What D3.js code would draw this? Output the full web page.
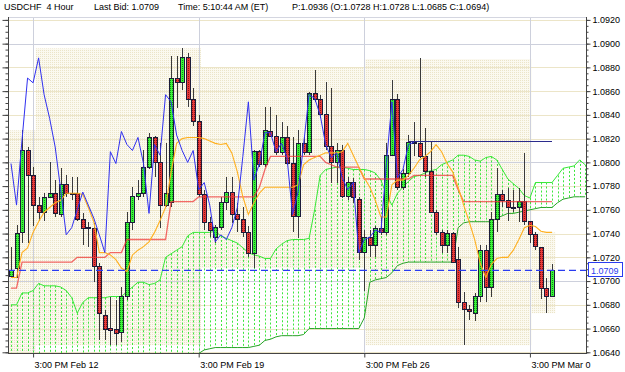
<!DOCTYPE html>
<html>
<head>
<meta charset="utf-8">
<script src="https://d3js.org/d3.v7.min.js"></script>
<style>
  body { margin: 0; background: #fff; overflow: hidden; }
  text { font-family: "Liberation Sans", Arial, sans-serif; }
</style>
</head>
<body>
<script>
// USDCHF 4 hour candles, one bar per 4h
const opens = [1.0704,1.0711,1.0741,1.0810,1.0789,1.0764,1.0758,1.0770,1.0774,1.0756,
  1.0781,1.0774,1.0774,1.0752,1.0745,1.0744,1.0712,1.0671,1.0660,1.0659,
  1.0657,1.0687,1.0749,1.0771,1.0774,1.0796,1.0821,1.0800,1.0764,1.0766,
  1.0871,1.0867,1.0888,1.0853,1.0834,1.0773,1.0749,1.0737,1.0745,1.0766,
  1.0775,1.0756,1.0752,1.0741,1.0723,1.0809,1.0798,1.0826,1.0822,1.0808,
  1.0821,1.0799,1.0754,1.0816,1.0808,1.0858,1.0853,1.0840,1.0813,1.0800,
  1.0810,1.0771,1.0783,1.0769,1.0724,1.0737,1.0730,1.0744,1.0741,1.0806,
  1.0853,1.0779,1.0791,1.0817,1.0816,1.0805,1.0792,1.0758,1.0741,1.0730,
  1.0740,1.0718,1.0682,1.0676,1.0673,1.0687,1.0726,1.0695,1.0752,1.0773,
  1.0768,1.0762,1.0762,1.0767,1.0750,1.0739,1.0728,1.0694,1.0687];
const highs = [1.0729,1.0747,1.0827,1.0813,1.0796,1.0771,1.0774,1.0800,1.0785,1.0795,
  1.0789,1.0788,1.0788,1.0757,1.0750,1.0749,1.0715,1.0676,1.0687,1.0684,
  1.0695,1.0758,1.0779,1.0785,1.0810,1.0825,1.0822,1.0816,1.0816,1.0890,
  1.0890,1.0896,1.0892,1.0863,1.0840,1.0777,1.0754,1.0747,1.0771,1.0788,
  1.0788,1.0766,1.0762,1.0746,1.0810,1.0810,1.0847,1.0847,1.0840,1.0834,
  1.0831,1.0821,1.0827,1.0821,1.0859,1.0878,1.0857,1.0868,1.0863,1.0816,
  1.0815,1.0788,1.0787,1.0771,1.0743,1.0743,1.0746,1.0754,1.0816,1.0869,
  1.0858,1.0794,1.0823,1.0834,1.0888,1.0829,1.0817,1.0760,1.0743,1.0743,
  1.0741,1.0729,1.0691,1.0680,1.0690,1.0730,1.0730,1.0758,1.0795,1.0777,
  1.0778,1.0777,1.0778,1.0808,1.0751,1.0741,1.0728,1.0703,1.0714];
const lows = [1.0703,1.0703,1.0732,1.0732,1.0746,1.0751,1.0751,1.0770,1.0754,1.0754,
  1.0771,1.0768,1.0751,1.0730,1.0729,1.0699,1.0650,1.0650,1.0646,1.0646,
  1.0649,1.0684,1.0743,1.0768,1.0771,1.0794,1.0788,1.0745,1.0762,1.0762,
  1.0846,1.0861,1.0847,1.0831,1.0771,1.0743,1.0737,1.0732,1.0743,1.0760,
  1.0749,1.0741,1.0737,1.0720,1.0711,1.0796,1.0796,1.0821,1.0806,1.0806,
  1.0798,1.0741,1.0736,1.0806,1.0806,1.0851,1.0837,1.0810,1.0783,1.0783,
  1.0770,1.0768,1.0766,1.0718,1.0692,1.0720,1.0720,1.0739,1.0739,1.0805,
  1.0777,1.0777,1.0788,1.0805,1.0804,1.0788,1.0757,1.0739,1.0724,1.0724,
  1.0715,1.0677,1.0646,1.0667,1.0666,1.0682,1.0682,1.0687,1.0741,1.0762,
  1.0751,1.0758,1.0750,1.0747,1.0732,1.0726,1.0685,1.0673,1.0687];
const closes = [1.0709,1.0740,1.0810,1.0789,1.0764,1.0758,1.0770,1.0774,1.0757,1.0781,
  1.0774,1.0773,1.0752,1.0744,1.0744,1.0712,1.0673,1.0659,1.0658,1.0656,
  1.0687,1.0749,1.0771,1.0774,1.0796,1.0821,1.0800,1.0764,1.0774,1.0871,
  1.0867,1.0888,1.0853,1.0834,1.0773,1.0749,1.0743,1.0745,1.0766,1.0775,
  1.0756,1.0752,1.0741,1.0723,1.0809,1.0798,1.0827,1.0822,1.0808,1.0821,
  1.0799,1.0754,1.0816,1.0808,1.0858,1.0853,1.0840,1.0813,1.0800,1.0810,
  1.0771,1.0783,1.0770,1.0724,1.0737,1.0730,1.0744,1.0741,1.0806,1.0853,
  1.0779,1.0791,1.0817,1.0816,1.0805,1.0792,1.0758,1.0741,1.0730,1.0740,
  1.0716,1.0682,1.0676,1.0674,1.0687,1.0726,1.0695,1.0752,1.0773,1.0768,
  1.0762,1.0761,1.0767,1.0750,1.0739,1.0729,1.0694,1.0687,1.0709];

// Ichimoku lines
const tenkan = [1.0703,1.0703,1.0724,1.0728,1.0741,1.0750,1.0758,1.0762,1.0766,1.0768,
  1.0774,1.0774,1.0774,1.0773,1.0762,1.0750,1.0724,1.0724,1.0722,1.0718,
  1.0711,1.0708,1.0722,1.0726,1.0729,1.0733,1.0741,1.0751,1.0762,1.0792,
  1.0816,1.0820,1.0821,1.0821,1.0821,1.0820,1.0818,1.0816,1.0815,1.0816,
  1.0808,1.0792,1.0771,1.0756,1.0766,1.0774,1.0779,1.0779,1.0779,1.0779,
  1.0779,1.0779,1.0781,1.0798,1.0802,1.0804,1.0806,1.0808,1.0808,1.0808,
  1.0809,1.0816,1.0806,1.0796,1.0787,1.0779,1.0768,1.0754,1.0754,1.0781,
  1.0785,1.0785,1.0789,1.0795,1.0802,1.0805,1.0809,1.0815,1.0809,1.0799,
  1.0792,1.0779,1.0764,1.0750,1.0735,1.0715,1.0703,1.0714,1.0719,1.0720,
  1.0720,1.0726,1.0735,1.0745,1.0747,1.0746,1.0742,1.0741,1.0741];
const kijun = [1.0694,1.0694,
  1.0716,1.0716,1.0716,1.0716,1.0716,1.0716,1.0716,1.0716,1.0716,1.0716,
  1.0720,1.0720,1.0720,1.0720,1.0720,1.0720,
  1.0724,1.0724,1.0724,
  1.0735,1.0735,1.0735,1.0735,1.0735,1.0735,1.0735,1.0735,
  1.0767,1.0767,1.0767,1.0767,1.0767,
  1.0771,1.0771,1.0771,1.0771,1.0771,1.0771,1.0771,1.0771,1.0771,1.0771,1.0771,
  1.0779,1.0794,
  1.0805,1.0805,1.0805,1.0805,1.0805,1.0805,1.0805,1.0805,1.0805,1.0805,
  1.0800,1.0798,
  1.0796,1.0796,1.0796,1.0796,1.0796,
  1.0786,1.0786,1.0786,1.0786,1.0786,1.0786,1.0786,1.0786,1.0786,
  1.0789,1.0789,1.0789,1.0789,1.0789,1.0789,1.0789,1.0789,
  1.0777,
  1.0767,1.0767,1.0767,1.0767,1.0767,1.0767,1.0767,1.0767,1.0767,1.0767,
  1.0767,1.0767,1.0767,1.0767,1.0767,1.0767,1.0767];
const chikou = [1.0799,1.0764,1.0819,1.0871,1.0867,1.0888,1.0857,1.0837,1.0813,1.0777,
  1.0739,1.0745,1.0760,1.0775,1.0764,1.0753,1.0739,1.0724,1.0809,1.0799,
  1.0826,1.0815,1.0810,1.0821,1.0799,1.0757,1.0815,1.0806,1.0857,1.0851,
  1.0823,1.0810,1.0800,1.0810,1.0777,1.0783,1.0764,1.0733,1.0739,1.0735,
  1.0745,1.0762,1.0805,1.0851,1.0785,1.0799,1.0825,1.0825,1.0809,1.0816,
  1.0804,1.0756,1.0775,1.0815,1.0857,1.0854,1.0840,1.0815,1.0804,1.0808,
  1.0787,1.0777,1.0783,1.0724,1.0735,1.0737,1.0743,1.0741,1.0799,1.0851,
  1.0787,1.0794,1.0815,1.0817];
const spanA = [1.0680,1.0680,1.0690,1.0690,1.0692,1.0698,1.0696,1.0696,1.0696,1.0695,
  1.0692,1.0686,1.0673,1.0682,1.0686,1.0686,1.0686,1.0686,1.0687,1.0687,
  1.0687,1.0691,1.0695,1.0699,1.0699,1.0697,1.0698,1.0701,1.0720,1.0723,
  1.0726,1.0729,1.0738,1.0741,1.0741,1.0741,1.0741,1.0742,1.0738,1.0736,
  1.0734,1.0732,1.0728,1.0724,1.0722,1.0721,1.0719,1.0719,1.0727,1.0731,
  1.0734,1.0735,1.0735,1.0735,1.0736,1.0760,1.0789,1.0794,1.0795,1.0796,
  1.0796,1.0795,1.0794,1.0794,1.0794,1.0793,1.0791,1.0785,1.0773,1.0764,
  1.0774,1.0779,1.0784,1.0788,1.0789,1.0791,1.0793,1.0794,1.0798,1.0800,
  1.0802,1.0806,1.0806,1.0805,1.0802,1.0801,1.0804,1.0805,1.0802,1.0794,
  1.0786,1.0782,1.0778,1.0772,1.0770,1.0783,1.0783,1.0783,1.0783,1.0789,
  1.0795,1.0796,1.0797,1.0802,1.0798];
const spanB = [1.0634,1.0634,1.0634,1.0634,1.0634,1.0634,1.0634,1.0634,1.0634,1.0634,
  1.0634,1.0634,1.0634,1.0634,1.0634,1.0634,1.0634,1.0634,1.0634,1.0634,
  1.0634,1.0634,1.0634,1.0634,1.0634,1.0634,1.0634,1.0634,1.0634,1.0634,
  1.0634,1.0634,1.0634,1.0634,1.0639,1.0642,1.0643,1.0644,1.0644,1.0644,
  1.0644,1.0644,1.0644,1.0644,1.0645,1.0646,1.0650,1.0651,1.0653,1.0654,
  1.0654,1.0654,1.0654,1.0655,1.0660,1.0660,1.0660,1.0660,1.0660,1.0660,
  1.0660,1.0660,1.0660,1.0660,1.0669,1.0699,1.0701,1.0702,1.0703,1.0707,
  1.0713,1.0715,1.0716,1.0716,1.0716,1.0716,1.0716,1.0716,1.0716,1.0716,
  1.0716,1.0745,1.0749,1.0750,1.0750,1.0750,1.0750,1.0750,1.0753,1.0755,
  1.0757,1.0757,1.0758,1.0759,1.0760,1.0761,1.0762,1.0762,1.0762,1.0766,
  1.0769,1.0770,1.0771,1.0771,1.0771];

// weekly high/low ranges (bar index span)
const weekStart = [-0.55, 4.5, 34.4, 64.2, 94.3];
const weekEnd = [4.5, 34.4, 64.2, 94.3, 98.6];
const weekHigh = [1.0827, 1.0896, 1.0880, 1.0887, 1.0741];
const weekLow = [1.0634, 1.0646, 1.0711, 1.0646, 1.0673];

const lastBid = 1.0709;
const levelLine = {from: 72, to: 98, price: 1.0818};

const xTickIdx = [4, 34, 64, 94];
const xTickLabels = ['3:00 PM Feb 12', '3:00 PM Feb 19', '3:00 PM Feb 26', '3:00 PM Mar 0'];
const yTicks = [1.0640,1.0660,1.0680,1.0700,1.0720,1.0740,1.0760,1.0780,1.0800,1.0820,1.0840,1.0860,1.0880,1.0900,1.0920];
const yMajor = [1.0700, 1.0800, 1.0900];

const width = 625, height = 372;
const plot = {left: 8, right: 586, top: 17, bottom: 353};

const x = d3.scaleLinear().domain([0, 98]).range([11, 552]);
const y = d3.scaleLinear().domain([1.0640, 1.0920]).range([352.3, 19.9]);

const svg = d3.select('body').append('svg')
  .attr('width', width)
  .attr('height', height);

const defs = svg.append('defs');
defs.append('clipPath').attr('id', 'clip')
  .append('rect')
  .attr('x', plot.left).attr('y', plot.top)
  .attr('width', plot.right - plot.left).attr('height', plot.bottom - plot.top);

function dotPattern(id, base, dot) {
  const p = defs.append('pattern').attr('id', id)
    .attr('patternUnits', 'userSpaceOnUse').attr('width', 2).attr('height', 2);
  p.append('rect').attr('width', 2).attr('height', 2).attr('fill', base);
  p.append('rect').attr('width', 1).attr('height', 1).attr('fill', dot);
}
dotPattern('sand', '#fbf9ef', '#ebe4c8');
dotPattern('bull', '#3cf23c', '#0e8f0e');
dotPattern('bear', '#e63b3b', '#8c1212');

const g = svg.append('g').attr('clip-path', 'url(#clip)');

// weekly range boxes
g.selectAll('rect.week')
  .data(weekStart)
  .join('rect')
  .attr('class', 'week')
  .attr('x', (d, i) => x(d))
  .attr('width', (d, i) => x(weekEnd[i]) - x(d))
  .attr('y', (d, i) => y(weekHigh[i]))
  .attr('height', (d, i) => y(weekLow[i]) - y(weekHigh[i]))
  .attr('fill', 'url(#sand)');

// grid
g.selectAll('line.hminor')
  .data(yTicks.filter(v => !yMajor.some(m => Math.abs(m - v) < 1e-6)))
  .join('line')
  .attr('x1', plot.left).attr('x2', plot.right)
  .attr('y1', d => Math.round(y(d)) + 0.5).attr('y2', d => Math.round(y(d)) + 0.5)
  .attr('stroke', '#ece5c8').attr('stroke-width', 1);

g.selectAll('line.hmajor')
  .data(yMajor)
  .join('line')
  .attr('x1', plot.left).attr('x2', plot.right)
  .attr('y1', d => Math.round(y(d)) + 0.5).attr('y2', d => Math.round(y(d)) + 0.5)
  .attr('stroke', '#cdd0dc').attr('stroke-width', 1);

g.selectAll('line.vgrid')
  .data(xTickIdx)
  .join('line')
  .attr('x1', d => Math.round(x(d)) + 0.5).attr('x2', d => Math.round(x(d)) + 0.5)
  .attr('y1', plot.top).attr('y2', plot.bottom)
  .attr('stroke', '#cdd0dc').attr('stroke-width', 1);

// cloud: dotted verticals between the two spans
g.selectAll('line.cloud')
  .data(spanA)
  .join('line')
  .attr('x1', (d, i) => Math.round(x(i)) + 0.5)
  .attr('x2', (d, i) => Math.round(x(i)) + 0.5)
  .attr('y1', d => y(d))
  .attr('y2', (d, i) => y(spanB[i]))
  .attr('stroke', '#3de63d')
  .attr('stroke-width', 1)
  .attr('stroke-dasharray', '2,2');

const line = d3.line().x((d, i) => x(i)).y(d => y(d));

g.append('path').datum(spanB).attr('d', line)
  .attr('fill', 'none').attr('stroke', '#27a327').attr('stroke-width', 1);
g.append('path').datum(spanA).attr('d', line)
  .attr('fill', 'none').attr('stroke', '#35e835').attr('stroke-width', 1);

// candles
const candles = g.append('g').attr('shape-rendering', 'crispEdges');
candles.selectAll('line.wick')
  .data(closes)
  .join('line')
  .attr('x1', (d, i) => Math.round(x(i)) + 0.5)
  .attr('x2', (d, i) => Math.round(x(i)) + 0.5)
  .attr('y1', (d, i) => y(highs[i]))
  .attr('y2', (d, i) => y(lows[i]))
  .attr('stroke', '#3a3a3a');

candles.selectAll('rect.body')
  .data(closes)
  .join('rect')
  .attr('x', (d, i) => Math.round(x(i)) - 1.5)
  .attr('width', 4)
  .attr('y', (d, i) => y(Math.max(d, opens[i])))
  .attr('height', (d, i) => Math.max(1, Math.abs(y(d) - y(opens[i]))))
  .attr('fill', (d, i) => d >= opens[i] ? 'url(#bull)' : 'url(#bear)')
  .attr('stroke', '#1c1c3a')
  .attr('stroke-width', 1);

// moving lines on top
g.append('path').datum(kijun).attr('d', line)
  .attr('fill', 'none').attr('stroke', '#f03a3a').attr('stroke-opacity', 0.75).attr('stroke-width', 1.3);
g.append('path').datum(tenkan).attr('d', line)
  .attr('fill', 'none').attr('stroke', '#ffb020').attr('stroke-width', 1.1);
g.append('path').datum(chikou).attr('d', line)
  .attr('fill', 'none').attr('stroke', '#3030f0').attr('stroke-width', 1);

g.append('line')
  .attr('x1', x(levelLine.from)).attr('x2', x(levelLine.to))
  .attr('y1', Math.round(y(levelLine.price)) + 0.5).attr('y2', Math.round(y(levelLine.price)) + 0.5)
  .attr('stroke', '#2b2b8c').attr('stroke-width', 1);

// last bid dashed line
g.append('line')
  .attr('x1', plot.left).attr('x2', plot.right)
  .attr('y1', y(lastBid)).attr('y2', y(lastBid))
  .attr('stroke', '#2a3cf0').attr('stroke-width', 1.4)
  .attr('stroke-dasharray', '7,4');

// frame
svg.append('line').attr('x1', plot.left).attr('x2', plot.right)
  .attr('y1', plot.top + 0.5).attr('y2', plot.top + 0.5).attr('stroke', '#d4d6e0');
svg.append('line').attr('x1', plot.left + 0.5).attr('x2', plot.left + 0.5)
  .attr('y1', plot.top).attr('y2', plot.bottom).attr('stroke', '#444');
svg.append('line').attr('x1', plot.right + 0.5).attr('x2', plot.right + 0.5)
  .attr('y1', plot.top).attr('y2', plot.bottom + 1).attr('stroke', '#444');
svg.append('line').attr('x1', plot.left).attr('x2', plot.right + 1)
  .attr('y1', plot.bottom + 0.5).attr('y2', plot.bottom + 0.5).attr('stroke', '#444');

// axes
const minorTicks = d3.range(10640, 10925, 5).map(v => v / 10000);

const rightAxis = svg.append('g')
  .attr('transform', `translate(${plot.right + 0.5},0)`)
  .call(d3.axisRight(y).tickValues(yTicks).tickFormat(d3.format('.4f')).tickSize(4).tickPadding(2));
rightAxis.select('.domain').remove();
rightAxis.selectAll('text').attr('font-size', 9).attr('fill', '#000')
  .attr('font-family', '"Liberation Sans", Arial, sans-serif');
rightAxis.selectAll('line').attr('stroke', '#444');

const rightMinor = svg.append('g')
  .attr('transform', `translate(${plot.right + 0.5},0)`)
  .call(d3.axisRight(y).tickValues(minorTicks).tickFormat('').tickSize(2));
rightMinor.select('.domain').remove();
rightMinor.selectAll('line').attr('stroke', '#444');

const leftMinor = svg.append('g')
  .attr('transform', `translate(${plot.left + 0.5},0)`)
  .call(d3.axisLeft(y).tickValues(minorTicks).tickFormat('').tickSize(3));
leftMinor.select('.domain').remove();
leftMinor.selectAll('line').attr('stroke', '#444');

const leftMajor = svg.append('g')
  .attr('transform', `translate(${plot.left + 0.5},0)`)
  .call(d3.axisLeft(y).tickValues(yTicks).tickFormat('').tickSize(6));
leftMajor.select('.domain').remove();
leftMajor.selectAll('line').attr('stroke', '#444');

const xAxis = svg.append('g')
  .attr('transform', `translate(0,${plot.bottom + 0.5})`)
  .call(d3.axisBottom(x).tickValues(xTickIdx)
    .tickFormat((d, i) => xTickLabels[i]).tickSize(4).tickPadding(4));
xAxis.select('.domain').remove();
xAxis.selectAll('line').attr('stroke', '#444');
xAxis.selectAll('text')
  .attr('text-anchor', 'start').attr('x', 1)
  .attr('font-size', 9).attr('fill', '#000')
  .attr('font-family', '"Liberation Sans", Arial, sans-serif');

// last bid tag
const tagY = y(lastBid);
svg.append('rect')
  .attr('x', 588.5).attr('y', Math.round(tagY) - 7.5)
  .attr('width', 34).attr('height', 14)
  .attr('fill', '#fff').attr('stroke', '#2a3cf0').attr('stroke-width', 1);
svg.append('text')
  .attr('x', 591).attr('y', Math.round(tagY) + 3.5)
  .attr('font-size', 9).attr('fill', '#2a3cf0')
  .text(d3.format('.4f')(lastBid));

// header
const header = [
  {x: 4, t: 'USDCHF  4 Hour'},
  {x: 94, t: 'Last Bid: 1.0709'},
  {x: 178, t: 'Time: 5:10:44 AM (ET)'},
  {x: 292, t: 'P:1.0936 (O:1.0728 H:1.0728 L:1.0685 C:1.0694)'}
];
svg.selectAll('text.hdr')
  .data(header)
  .join('text')
  .attr('class', 'hdr')
  .attr('x', d => d.x).attr('y', 10)
  .attr('font-size', 9).attr('fill', '#000')
  .attr('xml:space', 'preserve')
  .style('white-space', 'pre')
  .text(d => d.t);
</script>
</body>
</html>
